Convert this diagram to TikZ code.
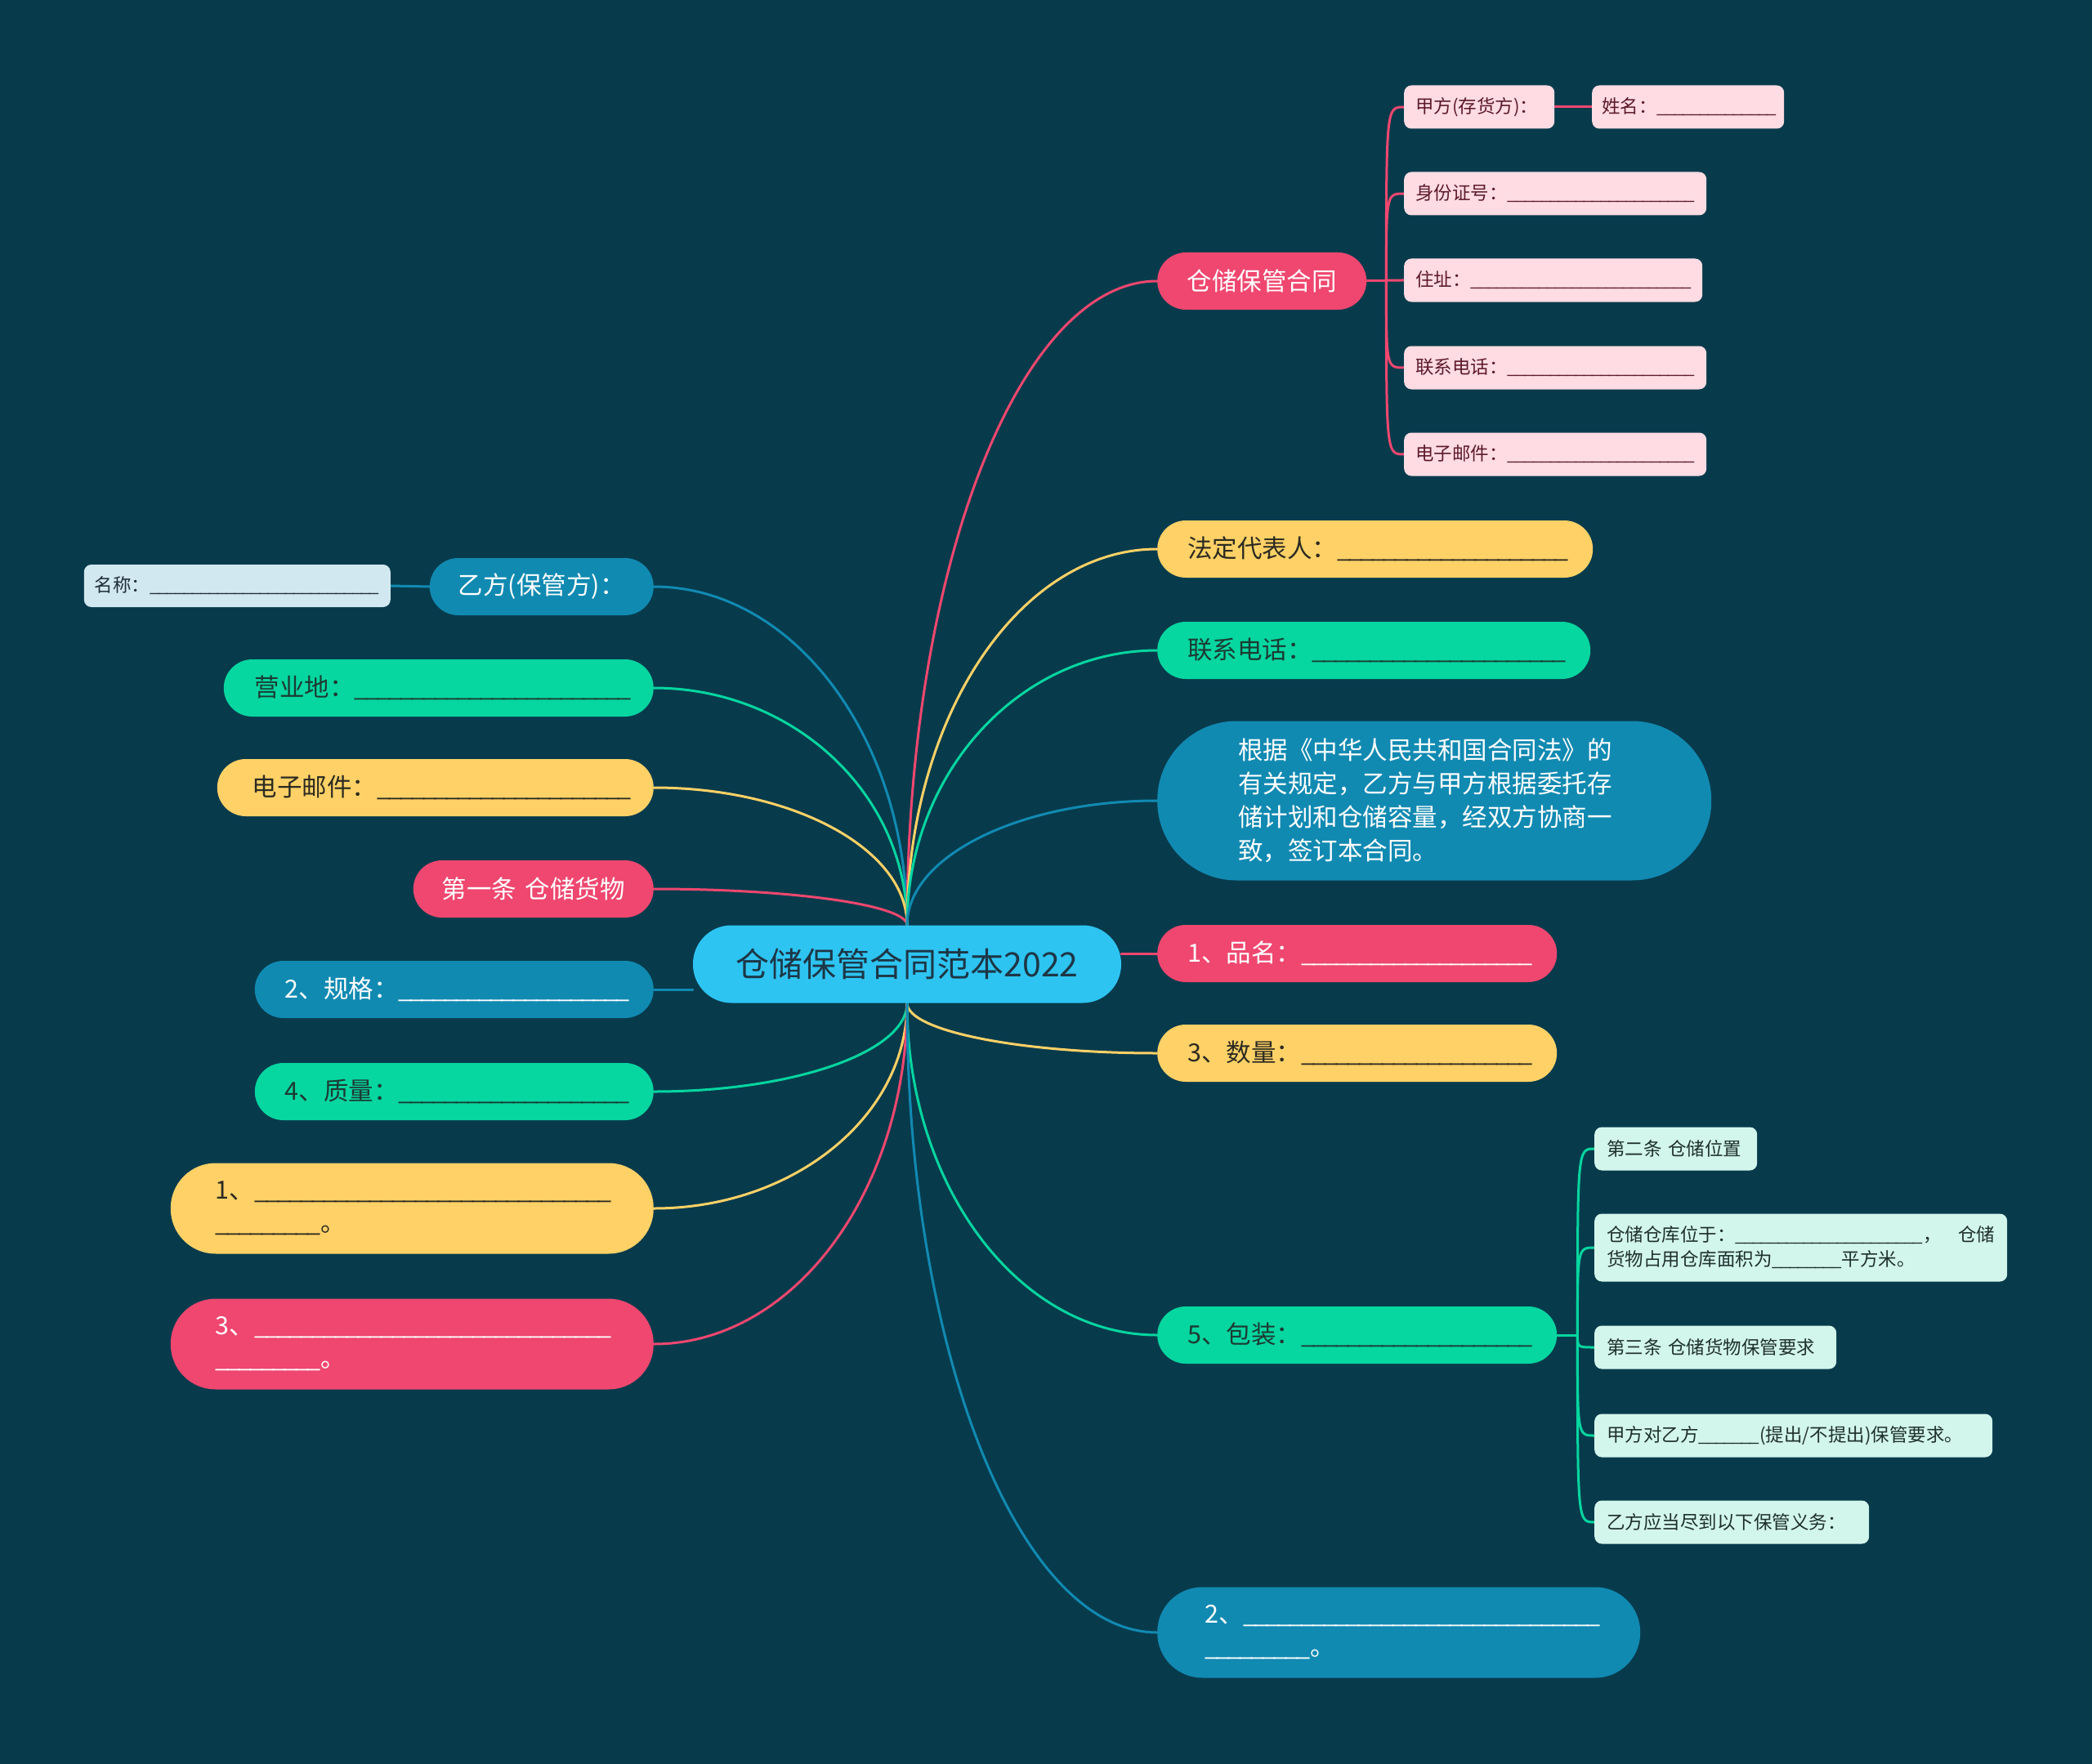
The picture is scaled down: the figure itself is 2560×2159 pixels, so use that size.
\documentclass[tikz,border=0pt]{standalone}
\usepackage{fontspec}
\setmainfont{Noto Sans CJK SC}
\usetikzlibrary{calc}
\pgfdeclarelayer{back}
\pgfsetlayers{back,main}
\definecolor{bgc}{HTML}{073B4C}
\definecolor{pinkc}{HTML}{EF476F}
\definecolor{yelc}{HTML}{FFD166}
\definecolor{grnc}{HTML}{06D6A0}
\definecolor{bluc}{HTML}{118AB2}
\definecolor{rootc}{HTML}{2EC4F2}
\definecolor{roott}{HTML}{1D3645}
\definecolor{ltpink}{HTML}{FFDCE3}
\definecolor{ltpinkt}{HTML}{5C1A2C}
\definecolor{ltmint}{HTML}{D3F6EC}
\definecolor{ltmintt}{HTML}{1E302B}
\definecolor{ltblue}{HTML}{D2E8F0}
\definecolor{ltbluet}{HTML}{1F2F38}
\definecolor{yelt}{HTML}{2B2B22}
\definecolor{grnt}{HTML}{1C3A33}
\newcount\blkc
\newcommand\blk[1]{\blkc=#1\relax\_\loop\ifnum\blkc>1 \kern-0.1em\_\advance\blkc by -1\relax\repeat}
\newcommand\fsA{\fontsize{30.5}{40}\selectfont}
\newcommand\fsB{\fontsize{22.5}{30}\selectfont}
\newcommand\fsR{\fontsize{41}{50}\selectfont}
\newcommand\curv[3]{\draw[#3] (#1) .. controls ($(#1)!0.552!(#1|-#2)$) and ($(#2)!0.552!(#1|-#2)$) .. (#2);}
\tikzset{
  lvone/.style={rounded corners=35pt, minimum height=70pt, inner ysep=0pt, font=\fsA, align=left},
  lvtwo/.style={rounded corners=35pt, minimum height=111pt, inner ysep=0pt, font=\fsA, align=left},
  sub/.style={rounded corners=9pt, minimum height=53pt, inner ysep=0pt, font=\fsB, align=left},
  pinkn/.style={fill=pinkc, text=white},
  yeln/.style={fill=yelc, text=yelt},
  grnn/.style={fill=grnc, text=grnt},
  blun/.style={fill=bluc, text=white},
  spink/.style={fill=ltpink, text=ltpinkt},
  smint/.style={fill=ltmint, text=ltmintt},
  sblue/.style={fill=ltblue, text=ltbluet},
  conn/.style={line width=3pt, line cap=round},
}
\begin{document}
\begin{tikzpicture}[x=1pt,y=-1pt]
\useasboundingbox (0,0) rectangle (2560,2159);
% root
\node[rounded corners=47pt, fill=rootc, text=roott, font=\fsR, minimum width=524pt, minimum height=95pt, inner sep=0pt] (root) at (1110,1180) {仓储保管合同范本2022};
% right level one
\node[lvone, pinkn, anchor=west, text width=196pt, inner xsep=30pt, align=center] (R1) at (1416,344) {仓储保管合同};
\node[lvone, yeln, anchor=west, text width=459pt, inner xsep=37pt] (R2) at (1416,672) {法定代表人：\blk{20}};
\node[lvone, grnn, anchor=west, text width=456pt, inner xsep=37pt] (R3) at (1416,796) {联系电话：\blk{22}};
\node[rounded corners=97pt, blun, anchor=west, minimum height=195pt, inner ysep=0pt, text width=480pt, inner xsep=99pt, align=left, font=\fontsize{30.5}{41}\selectfont] (R4) at (1416,980) {根据《中华人民共和国合同法》的\\有关规定，乙方与甲方根据委托存\\储计划和仓储容量，经双方协商一\\致，签订本合同。};
\node[lvone, pinkn, anchor=west, text width=415pt, inner xsep=37pt] (R5) at (1416,1167) {1、品名：\blk{20}};
\node[lvone, yeln, anchor=west, text width=415pt, inner xsep=37pt] (R6) at (1416,1289) {3、数量：\blk{20}};
\node[lvone, grnn, anchor=west, text width=415pt, inner xsep=37pt] (R7) at (1416,1634) {5、包装：\blk{20}};
\node[lvtwo, blun, anchor=west, text width=475pt, inner xsep=58pt, rounded corners=55pt] (R8) at (1416,1998) {2、\blk{31}\\\blk{9}。};
% left level one
\node[lvone, blun, anchor=east, text width=224pt, inner xsep=25pt, align=center] (L1) at (800,718) {乙方(保管方)：};
\node[lvone, grnn, anchor=east, text width=450pt, inner xsep=38pt] (L2) at (800,842) {营业地：\blk{24}};
\node[lvone, yeln, anchor=east, text width=448pt, inner xsep=43pt] (L3) at (800,964) {电子邮件：\blk{22}};
\node[lvone, pinkn, anchor=east, text width=244pt, inner xsep=25pt, align=center] (L4) at (800,1088) {第一条 仓储货物};
\node[lvone, blun, anchor=east, text width=414pt, inner xsep=37pt] (L5) at (800,1211) {2、规格：\blk{20}};
\node[lvone, grnn, anchor=east, text width=414pt, inner xsep=37pt] (L6) at (800,1336) {4、质量：\blk{20}};
\node[lvtwo, yeln, anchor=east, text width=481pt, inner xsep=55pt, rounded corners=55pt] (L7) at (800,1479) {1、\blk{31}\\\blk{9}。};
\node[lvtwo, pinkn, anchor=east, text width=481pt, inner xsep=55pt, rounded corners=55pt] (L8) at (800,1645) {3、\blk{31}\\\blk{9}。};
% sub nodes pink
\node[sub, spink, anchor=west, text width=156pt, inner xsep=14pt] (P1) at (1718,131) {甲方(存货方)：};
\node[sub, spink, anchor=west, text width=211pt, inner xsep=12pt] (P2) at (1948,131) {姓名：\blk{14}};
\node[sub, spink, anchor=west, text width=342pt, inner xsep=14pt] (P3) at (1718,237) {身份证号：\blk{22}};
\node[sub, spink, anchor=west, text width=337pt, inner xsep=14pt] (P4) at (1718,343) {住址：\blk{26}};
\node[sub, spink, anchor=west, text width=342pt, inner xsep=14pt] (P5) at (1718,450) {联系电话：\blk{22}};
\node[sub, spink, anchor=west, text width=342pt, inner xsep=14pt] (P6) at (1718,556) {电子邮件：\blk{22}};
% sub node blue
\node[sub, sblue, anchor=east, text width=349pt, inner xsep=13pt, minimum height=52pt] (N1) at (478,717) {名称：\blk{27}};
% sub nodes mint
\node[sub, smint, anchor=west, text width=169pt, inner xsep=15pt] (G1) at (1951,1406) {第二条 仓储位置};
\node[sub, smint, anchor=west, text width=475pt, inner xsep=15pt, minimum height=83pt] (G2) at (1951,1527) {仓储仓库位于：\blk{22}，\hfill 仓储\\货物占用仓库面积为\blk{8}平方米。};
\node[sub, smint, anchor=west, text width=266pt, inner xsep=15pt] (G3) at (1951,1649) {第三条 仓储货物保管要求};
\node[sub, smint, anchor=west, text width=457pt, inner xsep=15pt] (G4) at (1951,1757) {甲方对乙方\blk{7}(提出/不提出)保管要求。};
\node[sub, smint, anchor=west, text width=306pt, inner xsep=15pt] (G5) at (1951,1863) {乙方应当尽到以下保管义务：};
% connectors
\coordinate (ps) at ($(R1.east)+(24,0)$);
\coordinate (gs) at ($(R7.east)+(25,0)$);
\begin{pgfonlayer}{back}
\fill[bgc] (0,0) rectangle (2560,2159);
\curv{root.north}{L1.east}{conn, bluc}
\curv{root.north}{L2.east}{conn, grnc}
\curv{root.north}{L3.east}{conn, yelc}
\curv{root.north}{L4.east}{conn, pinkc}
\curv{root.north}{R1.west}{conn, pinkc}
\curv{root.north}{R2.west}{conn, yelc}
\curv{root.north}{R3.west}{conn, grnc}
\curv{root.north}{R4.west}{conn, bluc}
\curv{root.south}{L6.east}{conn, grnc}
\curv{root.south}{L7.east}{conn, yelc}
\curv{root.south}{L8.east}{conn, pinkc}
\curv{root.south}{R6.west}{conn, yelc}
\curv{root.south}{R7.west}{conn, grnc}
\curv{root.south}{R8.west}{conn, bluc}
\draw[conn, pinkc] (root.east|-R5.west) -- (R5.west);
\draw[conn, bluc] (root.west|-L5.east) -- (L5.east);
\draw[conn, pinkc] (R1.east) -- (ps);
\foreach \c in {P1,P3,P4,P5,P6} \draw[conn, pinkc] (ps) .. controls (ps|-\c.west) and (ps|-\c.west) .. (\c.west);
\draw[conn, pinkc] (P1.east) -- (P2.west);
\draw[conn, bluc] (L1.west) -- (N1.east);
\draw[conn, grnc] (R7.east) -- (gs);
\foreach \c in {G1,G2,G3,G4,G5} \draw[conn, grnc] (gs) .. controls (gs|-\c.west) and (gs|-\c.west) .. (\c.west);
\end{pgfonlayer}
\end{tikzpicture}
\end{document}
